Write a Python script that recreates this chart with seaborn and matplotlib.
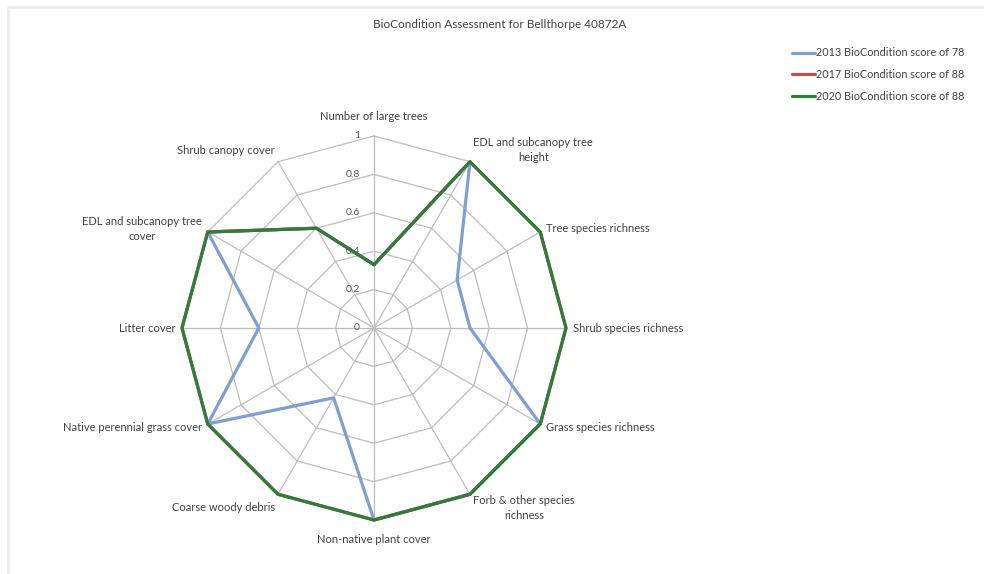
import numpy as np
import pandas as pd
import seaborn as sns
import matplotlib.pyplot as plt
from matplotlib.lines import Line2D

categories = [
    "Number of large trees",
    "EDL and subcanopy tree\nheight",
    "Tree species richness",
    "Shrub species richness",
    "Grass species richness",
    "Forb & other species\nrichness",
    "Non-native plant cover",
    "Coarse woody debris",
    "Native perennial grass cover",
    "Litter cover",
    "EDL and subcanopy tree\ncover",
    "Shrub canopy cover",
]
series_names = [
    "2013 BioCondition score of 78",
    "2017 BioCondition score of 88",
    "2020 BioCondition score of 88",
]
scores_2013 = [0.33, 1, 0.5, 0.5, 1, 1, 1, 0.42, 1, 0.6, 1, 0.6]
scores_2017 = [0.33, 1, 1, 1, 1, 1, 1, 1, 1, 1, 1, 0.6]
scores_2020 = [0.33, 1, 1, 1, 1, 1, 1, 1, 1, 1, 1, 0.6]
ring_ticks = [0, 0.2, 0.4, 0.6, 0.8, 1]
tick_labels = ["0", "0.2", "0.4", "0.6", "0.8", "1"]

colors = ["#7f9fd3", "#c0504d", "#2e7d3a"]

sns.set_style("white")
plt.rcParams["font.family"] = ["Lato", "DejaVu Sans"]

n = len(categories)
theta = np.arange(n) * 2 * np.pi / n

# long table, polygon closed by repeating the first point
rows = []
for name, vals in zip(series_names, [scores_2013, scores_2017, scores_2020]):
    for i in list(range(n)) + [0]:
        rows.append({"series": name,
                     "x": vals[i] * np.sin(theta[i]),
                     "y": vals[i] * np.cos(theta[i])})
df = pd.DataFrame(rows)

fig = plt.figure(figsize=(9.84, 5.74), dpi=100)
W, H = 984, 574
cx, cy, R = 374, 246, 192  # center (from bottom) and radius in pixels
ax = fig.add_axes([0, 0, 1, 1])
ax.set_xlim(-cx / R, (W - cx) / R)
ax.set_ylim(-cy / R, (H - cy) / R)
ax.axis("off")

grid_col = "#bdbdbd"
# spokes
for t in theta:
    ax.plot([0, np.sin(t)], [0, np.cos(t)], color=grid_col, lw=0.9, zorder=1)
# polygon rings
ring_t = np.append(theta, theta[0])
for r in ring_ticks[1:]:
    ax.plot(r * np.sin(ring_t), r * np.cos(ring_t), color=grid_col, lw=0.9, zorder=1)

sns.lineplot(data=df, x="x", y="y", hue="series", hue_order=series_names,
             palette=colors, sort=False, estimator=None, linewidth=2.3,
             ax=ax, zorder=3)
for line in ax.lines[-3:]:
    line.set_solid_joinstyle("miter")

# scale labels on the top spoke
for r, lab in zip(ring_ticks, tick_labels):
    ax.text(-14 / R, r, lab, ha="right", va="center", fontsize=7.5, color="#595959")

# category labels
for t, lab in zip(theta, categories):
    s, c = np.sin(t), np.cos(t)
    x, y = 1.035 * s, 1.035 * c
    if abs(s) < 0.1:
        ha = "center"
        y = 1.1 * c
    elif s > 0:
        ha = "left"
    else:
        ha = "right"
    if abs(c - 0.866) < 0.01:
        y += 0.03
    if abs(c + 0.866) < 0.01:
        y -= 0.04
    ax.text(x, y, lab, ha=ha, va="center", multialignment="center",
            fontsize=8, color="#404040", linespacing=1.45)

fig.text(500 / W, 1 - 25 / H, "BioCondition Assessment for Bellthorpe 40872A",
         ha="center", va="center", fontsize=8.5, color="#404040")

handles, labels = ax.get_legend_handles_labels()
ax.get_legend().remove()
fig.legend(handles, labels, loc="upper left", bbox_to_anchor=(788 / W, 1 - 43 / H),
           frameon=False, fontsize=7.8, handlelength=2.1, handletextpad=0.1,
           labelspacing=1.0, borderaxespad=0, labelcolor="#404040")

# faint frame edges of the original chart area
fig.add_artist(Line2D([8 / W, 1], [1 - 7 / H, 1 - 7 / H], color="#ececec", lw=2))
fig.add_artist(Line2D([8 / W, 8 / W], [0, 1 - 7 / H], color="#ececec", lw=2))

fig.savefig("out.png", dpi=100)
